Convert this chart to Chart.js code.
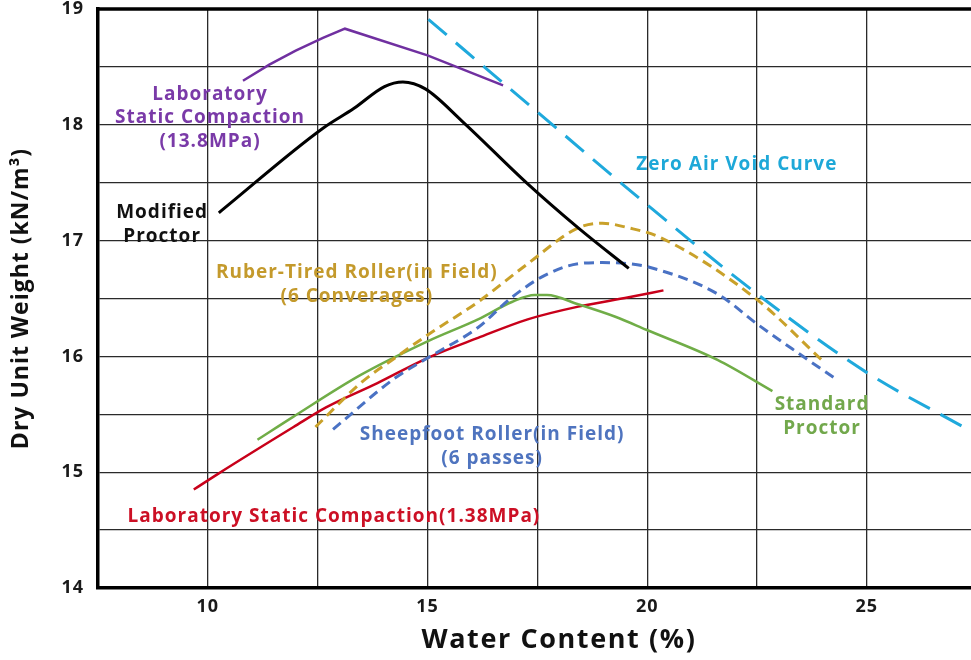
<!DOCTYPE html>
<html>
<head>
<meta charset="utf-8">
<script src="https://cdn.jsdelivr.net/npm/chart.js@4/dist/chart.umd.min.js"></script>
<style>
  html, body { margin: 0; padding: 0; background: #fff; }
  canvas { display: block; }
</style>
</head>
<body>
<canvas id="compactionChart" width="971" height="660"></canvas>
<script>
// water content (%) and dry unit weight (kN/m3) for each curve
const labHighWater = [10.80, 11.40, 12.00, 12.62, 13.12, 15.00, 16.72];
const labHighWeight = [18.38, 18.52, 18.64, 18.75, 18.83, 18.60, 18.34];

const modifiedWater = [10.25, 12.62, 13.32, 14.02, 14.44, 14.95, 15.79, 17.28, 18.43, 19.58];
const modifiedWeight = [17.24, 17.97, 18.14, 18.33, 18.37, 18.31, 18.03, 17.49, 17.11, 16.76];

const zeroAirWater = [15.02, 17.44, 19.68, 22.50, 25.00, 27.20];
const zeroAirWeight = [18.91, 18.13, 17.41, 16.54, 15.86, 15.39];

const rubberWater = [12.45, 13.48, 14.27, 15.02, 16.15, 17.28, 18.43, 18.98, 19.58, 20.28, 22.50, 23.97];
const rubberWeight = [15.39, 15.77, 15.99, 16.19, 16.47, 16.80, 17.11, 17.15, 17.11, 17.03, 16.49, 15.97];

const sheepfootWater = [12.85, 14.25, 15.02, 16.15, 16.92, 17.67, 18.43, 18.98, 19.58, 20.05, 21.60, 22.50, 23.47, 24.35];
const sheepfootWeight = [15.37, 15.81, 15.99, 16.25, 16.51, 16.70, 16.80, 16.81, 16.80, 16.77, 16.54, 16.28, 16.02, 15.79];

const standardWater = [11.13, 11.95, 13.48, 15.00, 16.15, 16.92, 17.44, 17.72, 18.43, 19.29, 19.98, 21.60, 22.85];
const standardWeight = [15.28, 15.48, 15.84, 16.13, 16.32, 16.47, 16.53, 16.53, 16.45, 16.34, 16.23, 15.97, 15.70];

const labLowWater = [9.68, 10.25, 11.95, 12.69, 13.86, 15.02, 16.15, 17.28, 18.43, 19.58, 20.37];
const labLowWeight = [14.85, 14.99, 15.39, 15.56, 15.77, 15.99, 16.16, 16.32, 16.43, 16.51, 16.57];

const xTicks = [10, 15, 20, 25];
const yTicks = [14, 15, 16, 17, 18, 19];

const xTitle = 'Water Content (%)';
const yTitle = 'Dry Unit Weight (kN/m³)';

// curve captions, anchored in data units
const captions = [
  { lines: ['Laboratory', 'Static Compaction', '(13.8MPa)'], x: 10.05, y: 18.06, color: '#7a3aa8' },
  { lines: ['Modified', 'Proctor'], x: 8.96, y: 17.14, color: '#111111' },
  { lines: ['Zero Air Void Curve'], x: 22.04, y: 17.66, color: '#1ea8d8' },
  { lines: ['Ruber-Tired Roller(in Field)', '(6 Converages)'], x: 13.39, y: 16.62, color: '#c49a2c' },
  { lines: ['Sheepfoot Roller(in Field)', '(6 passes)'], x: 16.47, y: 15.22, color: '#4f74bf' },
  { lines: ['Standard', 'Proctor'], x: 23.98, y: 15.48, color: '#72a84c' },
  { lines: ['Laboratory Static Compaction(1.38MPa)'], x: 12.87, y: 14.62, color: '#cc1025' }
];

function points(xs, ys) {
  return xs.map((x, i) => ({ x: x, y: ys[i] }));
}

function series(label, xs, ys, color, width, dash, tension) {
  return {
    label: label,
    data: points(xs, ys),
    borderColor: color,
    borderWidth: width,
    borderDash: dash || [],
    pointRadius: 0,
    fill: false,
    tension: tension === undefined ? 0.4 : tension,
    cubicInterpolationMode: tension === 0 ? 'default' : 'monotone'
  };
}

// wider letter spacing for axis text, switched off again before the curves
const spacingPlugin = {
  id: 'spacing',
  beforeDraw(chart) { chart.ctx.letterSpacing = '1px'; },
  beforeDatasetsDraw(chart) { chart.ctx.letterSpacing = '0px'; }
};

const captionPlugin = {
  id: 'captions',
  afterDatasetsDraw(chart) {
    const ctx = chart.ctx;
    const xs = chart.scales.x;
    const ys = chart.scales.y;
    ctx.save();
    ctx.font = "bold 19px 'Open Sans', 'Noto Sans', sans-serif";
    ctx.letterSpacing = '1px';
    ctx.textAlign = 'center';
    ctx.textBaseline = 'middle';
    captions.forEach(c => {
      const cx = xs.getPixelForValue(c.x);
      const cy = ys.getPixelForValue(c.y);
      const lh = 23.5;
      const top = cy - (c.lines.length - 1) * lh / 2;
      ctx.fillStyle = c.color;
      c.lines.forEach((t, i) => ctx.fillText(t, cx, top + i * lh));
    });
    ctx.restore();
  }
};

// heavy top frame line and the x axis title, which sits right of centre
const framePlugin = {
  id: 'frame',
  afterDraw(chart) {
    const a = chart.chartArea;
    const ctx = chart.ctx;
    ctx.save();
    ctx.strokeStyle = '#000';
    ctx.lineWidth = 3.5;
    ctx.beginPath();
    ctx.moveTo(a.left - 1.5, a.top);
    ctx.lineTo(a.right, a.top);
    ctx.stroke();

    ctx.font = "bold 27px 'Open Sans', 'Noto Sans', sans-serif";
    ctx.letterSpacing = '1.6px';
    ctx.fillStyle = '#111';
    ctx.textAlign = 'center';
    ctx.textBaseline = 'middle';
    ctx.fillText(xTitle, a.left + (a.right - a.left) * 0.528, chart.height - 20);
    ctx.restore();
  }
};

Chart.defaults.font.family = "'Open Sans', 'Noto Sans', sans-serif";
Chart.defaults.color = '#1a1a1a';

const ctx = document.getElementById('compactionChart').getContext('2d');
new Chart(ctx, {
  type: 'line',
  data: {
    datasets: [
      series('Laboratory Static Compaction (13.8MPa)', labHighWater, labHighWeight, '#7030a0', 2.5, null, 0),
      series('Modified Proctor', modifiedWater, modifiedWeight, '#000000', 3),
      series('Zero Air Void Curve', zeroAirWater, zeroAirWeight, '#1fa9dc', 3, [24, 12]),
      series('Ruber-Tired Roller (6 Converages)', rubberWater, rubberWeight, '#c9a12a', 3, [10, 6]),
      series('Sheepfoot Roller (6 passes)', sheepfootWater, sheepfootWeight, '#4a72c4', 3, [10, 6]),
      series('Standard Proctor', standardWater, standardWeight, '#70ad47', 2.5),
      series('Laboratory Static Compaction (1.38MPa)', labLowWater, labLowWeight, '#c8001a', 2.5)
    ]
  },
  options: {
    responsive: false,
    animation: false,
    layout: { padding: { top: 9, right: 0, left: 0, bottom: 0 } },
    plugins: {
      legend: { display: false },
      tooltip: { enabled: false }
    },
    scales: {
      x: {
        type: 'linear',
        min: 7.5,
        max: 27.37,
        afterFit(scale) {
          scale.height = 72;
          scale.paddingLeft = 0;
          scale.paddingRight = 0;
        },
        border: { color: '#000', width: 3.5 },
        grid: { color: '#2a2a2a', lineWidth: 1.3, drawTicks: false },
        ticks: {
          stepSize: 2.5,
          includeBounds: false,
          padding: 8,
          maxRotation: 0,
          autoSkip: false,
          font: { size: 18, weight: 'bold' },
          callback: v => xTicks.includes(v) ? String(v) : ''
        },
        title: { display: false }
      },
      y: {
        type: 'linear',
        min: 14,
        max: 19,
        afterFit(scale) {
          scale.width = 98;
          scale.paddingTop = 0;
          scale.paddingBottom = 0;
        },
        border: { color: '#000', width: 3.5 },
        grid: { color: '#2a2a2a', lineWidth: 1.3, drawTicks: false },
        ticks: {
          stepSize: 0.5,
          padding: 14,
          autoSkip: false,
          font: { size: 18, weight: 'bold' },
          callback: v => yTicks.includes(v) ? String(v) : ''
        },
        title: {
          display: true,
          text: yTitle,
          font: { size: 23, weight: 'bold' },
          color: '#111',
          padding: { top: 8, bottom: 0 }
        }
      }
    }
  },
  plugins: [spacingPlugin, captionPlugin, framePlugin]
});
</script>
</body>
</html>
